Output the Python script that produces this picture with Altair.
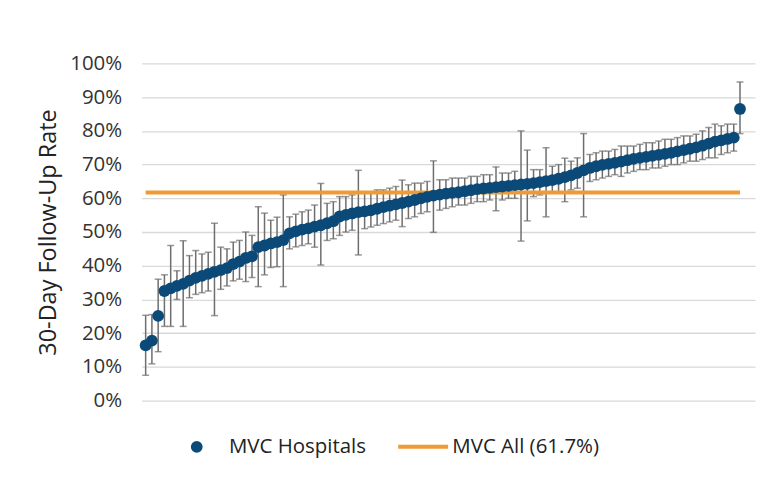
import altair as alt
import pandas as pd

# Hospital 30-day follow-up rates (%), sorted, with 95% CI bounds
rate = [16.4, 17.8, 25.1, 32.5, 33.3, 34.0, 34.6, 35.6, 36.4, 37.0,
        37.6, 38.2, 38.7, 39.3, 40.5, 41.2, 42.3, 42.8, 45.5, 46.0,
        46.6, 47.0, 47.6, 49.6, 50.2, 50.7, 51.1, 51.6, 52.0, 52.6,
        53.2, 54.6, 55.1, 55.5, 55.9, 56.1, 56.4, 56.9, 57.4, 57.8,
        58.2, 58.6, 59.0, 59.5, 60.0, 60.4, 60.8, 61.1, 61.4, 61.6,
        61.8, 62.1, 62.4, 62.7, 62.9, 63.1, 63.3, 63.5, 63.7, 63.9,
        64.1, 64.3, 64.5, 64.8, 65.1, 65.4, 65.8, 66.3, 66.8, 67.5,
        68.3, 69.0, 69.5, 69.9, 70.2, 70.5, 70.9, 71.3, 71.7, 72.0,
        72.3, 72.6, 72.9, 73.2, 73.5, 73.9, 74.3, 74.7, 75.1, 75.6,
        76.2, 76.8, 77.2, 77.6, 78.0, 86.5]
lower = [7.5, 10.9, 14.5, 22.0, 22.0, 30.0, 22.0, 30.5, 31.5, 32.0,
         32.5, 25.2, 33.0, 34.0, 35.5, 36.0, 35.3, 36.5, 33.8, 37.3,
         39.5, 39.7, 33.8, 45.0, 45.6, 46.0, 46.5, 45.5, 40.2, 47.5,
         48.0, 49.0, 50.0, 50.5, 43.2, 51.0, 51.5, 52.0, 52.5, 53.0,
         53.5, 51.6, 54.0, 54.5, 55.5, 56.0, 49.9, 56.5, 57.0, 57.5,
         58.0, 58.0, 58.5, 59.0, 59.0, 59.5, 56.3, 59.5, 60.0, 60.0,
         47.3, 53.3, 60.5, 61.0, 54.5, 61.5, 61.5, 59.0, 62.5, 63.0,
         54.5, 65.0, 65.5, 66.0, 66.5, 67.0, 66.5, 67.5, 68.0, 68.5,
         68.5, 69.0, 69.0, 69.5, 70.0, 70.0, 70.5, 71.0, 71.0, 71.5,
         72.0, 72.0, 73.0, 73.5, 74.0, 79.2]
upper = [25.3, 25.5, 36.0, 37.3, 46.0, 38.5, 47.4, 43.0, 44.5, 43.5,
         44.0, 52.6, 45.5, 45.0, 47.0, 47.5, 50.0, 49.0, 57.5, 55.6,
         53.5, 54.4, 61.0, 54.5, 55.3, 56.0, 56.5, 58.0, 64.4, 58.5,
         59.0, 60.5, 60.5, 61.0, 68.3, 61.5, 61.5, 62.5, 62.5, 63.0,
         63.5, 65.4, 64.0, 64.5, 64.5, 65.0, 71.1, 65.5, 65.5, 66.0,
         66.0, 66.0, 66.5, 66.5, 67.0, 67.0, 69.3, 67.5, 67.5, 68.0,
         80.0, 74.3, 68.5, 68.5, 75.0, 69.5, 70.0, 71.9, 71.0, 72.0,
         79.2, 73.0, 73.5, 74.0, 74.0, 74.5, 75.5, 75.5, 75.5, 76.0,
         76.5, 76.5, 77.0, 77.5, 77.5, 78.0, 78.5, 78.5, 79.0, 80.0,
         81.0, 82.0, 81.5, 82.0, 82.0, 94.5]
overall = 61.7
series_names = ["MVC Hospitals", "MVC All (61.7%)"]
y_ticks = [0, 0.1, 0.2, 0.3, 0.4, 0.5, 0.6, 0.7, 0.8, 0.9, 1.0]

BLUE = "#0b4a78"
ORANGE = "#ee9a35"
GRAY = "#6e6e6e"
FONT = "Open Sans"
# legend glyph for the reference line: a thin horizontal bar
LINE_GLYPH = "M-4.4,-0.4H5.6V0.4H-4.4Z"

n = len(rate)
df = pd.DataFrame({
    "idx": list(range(n)),
    "rate": [v / 100 for v in rate],
    "lo": [v / 100 for v in lower],
    "hi": [v / 100 for v in upper],
    "series": [series_names[0]] * n,
})
ref = pd.DataFrame({
    "x1": [0], "x2": [n - 1],
    "val": [overall / 100],
    "series": [series_names[1]],
})

xscale = alt.Scale(domain=[-0.64, n + 1.4], nice=False, zero=False)
yscale = alt.Scale(domain=[0, 1], nice=False)
yaxis = alt.Axis(values=y_ticks, format=".0%", title="30-Day Follow-Up Rate",
                 labelOverlap=False, domain=False, ticks=False, labelPadding=20,
                 labelFont=FONT, labelFontSize=20.5, labelColor="#333333",
                 titleFont=FONT, titleFontSize=23.5, titleFontWeight="normal",
                 titleColor="#222222", titlePadding=9,
                 grid=True, gridColor="#d9d9d9", gridWidth=1.3)
xenc = alt.X("idx:Q", scale=xscale, axis=None)

color = alt.Color("series:N",
                  scale=alt.Scale(domain=series_names, range=[BLUE, ORANGE]),
                  legend=alt.Legend(title=None, orient="none", direction="horizontal",
                                    legendX=45, legendY=374,
                                    labelFont=FONT, labelFontSize=20.5, labelColor="#222222",
                                    symbolStrokeWidth=0, columnPadding=32,
                                    labelOffset=22, symbolOpacity=1))
shape = alt.Shape("series:N", scale=alt.Scale(domain=series_names, range=["circle", LINE_GLYPH]),
                  legend=None)
size = alt.Size("series:N", scale=alt.Scale(domain=series_names, range=[140, 100]),
                legend=None)

bars = alt.Chart(df).mark_errorbar(ticks=alt.MarkConfig(size=7, color=GRAY, strokeWidth=1.5),
                                   color=GRAY, thickness=1.5).encode(
    x=xenc,
    y=alt.Y("lo:Q", scale=yscale, axis=yaxis),
    y2="hi:Q",
)

rule = alt.Chart(ref).mark_rule(strokeWidth=4).encode(
    x=alt.X("x1:Q", scale=xscale, axis=None),
    x2="x2:Q",
    y=alt.Y("val:Q", scale=yscale, axis=yaxis),
    color=color,
)

points = alt.Chart(df).mark_point(filled=True, opacity=1).encode(
    x=xenc,
    y=alt.Y("rate:Q", scale=yscale, axis=yaxis),
    color=color,
    shape=shape,
    size=size,
)

chart = alt.layer(bars, rule, points).properties(
    width=615, height=338,
    padding={"left": 28, "top": 45, "right": 5, "bottom": 5},
).configure(font=FONT).configure_view(stroke=None)

chart.save("out.html", embed_options={"renderer": "svg", "actions": False})
